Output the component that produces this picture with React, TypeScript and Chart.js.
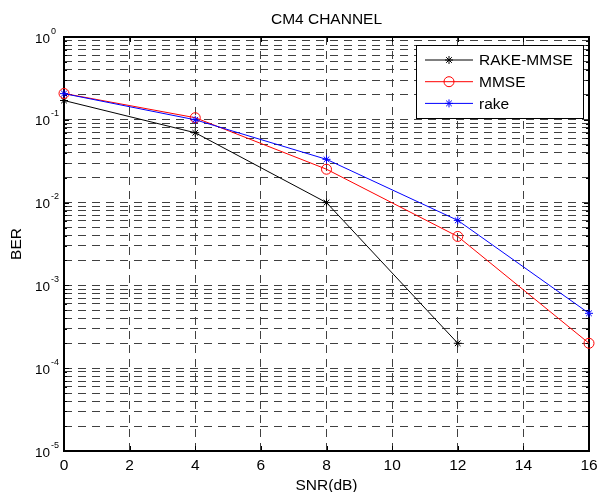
import React, { useEffect, useRef } from "react";
import { Chart, registerables } from "chart.js";

Chart.register(...registerables);

// ---- data ----
const snrDb = [0, 4, 8, 12, 16];
const rakeMmseBer = [0.171, 0.0697, 0.01, 0.0002];
const mmseBer = [0.208, 0.106, 0.0253, 0.0039, 0.0002];
const rakeBer = [0.207, 0.1, 0.0333, 0.0061, 0.00046];
const seriesLabels = ["RAKE-MMSE", "MMSE", "rake"];
const seriesColors = ["#000000", "#ff0000", "#0000ff"];
const xTickValues = [0, 2, 4, 6, 8, 10, 12, 14, 16];
const yDecadeExponents = [-5, -4, -3, -2, -1, 0];
const yMinorSteps = [1, 2, 3, 4, 5, 6, 7, 8, 9];
const titleText = "CM4 CHANNEL";
const xTitle = "SNR(dB)";
const yTitle = "BER";

const FONT = '"Liberation Sans", Arial, Helvetica, sans-serif';

const yTickValues: number[] = [];
yDecadeExponents.forEach((e) => {
  if (e === 0) {
    yTickValues.push(1);
  } else {
    yMinorSteps.forEach((m) => yTickValues.push(Number((m * Math.pow(10, e)).toPrecision(6))));
  }
});

const isDecade = (v: number) => Math.abs(Math.log10(v) - Math.round(Math.log10(v))) < 1e-9;

const toPoints = (ys: number[]) => ys.map((y, i) => ({ x: snrDb[i], y }));

function drawMarker(ctx: CanvasRenderingContext2D, style: string, x: number, y: number, r: number, color: string) {
  ctx.save();
  ctx.strokeStyle = color;
  ctx.lineWidth = 1;
  ctx.beginPath();
  if (style === "circle") {
    ctx.arc(x, y, r, 0, Math.PI * 2);
  } else {
    const d = r * Math.SQRT1_2;
    ctx.moveTo(x - r, y);
    ctx.lineTo(x + r, y);
    ctx.moveTo(x, y - r);
    ctx.lineTo(x, y + r);
    ctx.moveTo(x - d, y - d);
    ctx.lineTo(x + d, y + d);
    ctx.moveTo(x - d, y + d);
    ctx.lineTo(x + d, y - d);
  }
  ctx.stroke();
  ctx.restore();
}

const matlabPlugin = {
  id: "matlabStyle",
  beforeDatasetsDraw(chart: any) {
    const { ctx, chartArea: a, scales } = chart;
    ctx.save();
    ctx.strokeStyle = "#000";
    ctx.lineWidth = 1;
    ctx.beginPath();
    yTickValues.forEach((v) => {
      const y = Math.round(scales.y.getPixelForValue(v)) + 0.5;
      const len = isDecade(v) ? 5 : 3;
      ctx.moveTo(a.left, y);
      ctx.lineTo(a.left + len, y);
      ctx.moveTo(a.right, y);
      ctx.lineTo(a.right - len, y);
    });
    xTickValues.forEach((v) => {
      const x = Math.round(scales.x.getPixelForValue(v)) + 0.5;
      ctx.moveTo(x, a.bottom);
      ctx.lineTo(x, a.bottom - 5);
      ctx.moveTo(x, a.top);
      ctx.lineTo(x, a.top + 5);
    });
    ctx.stroke();
    ctx.lineWidth = 2;
    ctx.strokeRect(a.left, a.top, a.right - a.left, a.bottom - a.top);
    ctx.restore();
  },
  afterDatasetsDraw(chart: any) {
    const { ctx } = chart;
    const lx = 416;
    const ly = 45;
    const lw = 167;
    const lh = 73;
    ctx.save();
    ctx.fillStyle = "#fff";
    ctx.fillRect(lx, ly, lw, lh);
    ctx.strokeStyle = "#000";
    ctx.lineWidth = 1;
    ctx.strokeRect(lx + 0.5, ly + 0.5, lw, lh);
    chart.data.datasets.forEach((ds: any, i: number) => {
      const y = ly + 15 + i * 21.7;
      ctx.strokeStyle = ds.borderColor;
      ctx.lineWidth = 1;
      ctx.beginPath();
      ctx.moveTo(425, y);
      ctx.lineTo(473, y);
      ctx.stroke();
      drawMarker(ctx, ds.pointStyle, 449, y, ds.pointRadius, ds.borderColor);
      ctx.fillStyle = "#000";
      ctx.font = `15.5px ${FONT}`;
      ctx.textAlign = "left";
      ctx.textBaseline = "middle";
      ctx.fillText(ds.label, 479, y + 1);
    });
    ctx.restore();
  },
  afterDraw(chart: any) {
    const { ctx, chartArea: a, scales } = chart;
    ctx.save();
    ctx.fillStyle = "#000";
    // title
    ctx.font = `15.5px ${FONT}`;
    ctx.textAlign = "center";
    ctx.textBaseline = "alphabetic";
    ctx.fillText(titleText, (a.left + a.right) / 2, 24);
    // x tick labels
    xTickValues.forEach((v) => {
      const x = scales.x.getPixelForValue(v);
      ctx.fillText(String(v), x, a.bottom + 18.5);
    });
    // x title
    ctx.fillText(xTitle, (a.left + a.right) / 2, 490);
    // y tick labels
    yDecadeExponents.forEach((e) => {
      const y = scales.y.getPixelForValue(Math.pow(10, e));
      ctx.font = `13.5px ${FONT}`;
      ctx.textAlign = "right";
      ctx.fillText("10", 50, y + 5.5);
      ctx.font = `9px ${FONT}`;
      ctx.textAlign = "left";
      ctx.fillText(String(e), 51, y - 3.5);
    });
    // y title
    ctx.font = `15.5px ${FONT}`;
    ctx.translate(20.5, (a.top + a.bottom) / 2);
    ctx.rotate(-Math.PI / 2);
    ctx.textAlign = "center";
    ctx.fillText(yTitle, 0, 0);
    ctx.restore();
  },
};

export default function App() {
  const canvasRef = useRef<HTMLCanvasElement | null>(null);

  useEffect(() => {
    const canvas = canvasRef.current;
    if (!canvas) return;
    const seriesData = [rakeMmseBer, mmseBer, rakeBer];
    const pointStyles = ["star", "circle", "star"];
    const radii = [4, 5, 4];
    const orders = [2, 1, 0];
    const chart = new Chart(canvas, {
      type: "line",
      data: {
        datasets: seriesData.map((ys, i) => ({
          label: seriesLabels[i],
          data: toPoints(ys),
          borderColor: seriesColors[i],
          backgroundColor: seriesColors[i],
          borderWidth: 1,
          pointStyle: pointStyles[i],
          pointRadius: radii[i],
          pointBorderWidth: 1,
          pointBorderColor: seriesColors[i],
          pointBackgroundColor: "rgba(0,0,0,0)",
          tension: 0,
          fill: false,
          clip: false,
          order: orders[i],
        })),
      },
      options: {
        responsive: false,
        animation: false,
        devicePixelRatio: 1,
        layout: { padding: { left: 64, right: 11, top: 37, bottom: 41 } },
        plugins: {
          legend: { display: false },
          tooltip: { enabled: false },
          title: { display: false },
        },
        events: [],
        scales: {
          x: {
            type: "linear",
            min: 0,
            max: 16,
            ticks: { display: false, stepSize: 2 },
            afterBuildTicks: (scale: any) => {
              scale.ticks = xTickValues.map((v) => ({ value: v }));
            },
            grid: { color: "#404040", lineWidth: 1, drawTicks: false },
            border: { display: false, dash: [8, 6] },
          },
          y: {
            type: "logarithmic",
            min: 1e-5,
            max: 1,
            ticks: { display: false },
            afterBuildTicks: (scale: any) => {
              scale.ticks = yTickValues.map((v) => ({ value: v, major: isDecade(v) }));
            },
            grid: { color: "#404040", lineWidth: 1, drawTicks: false },
            border: { display: false, dash: [8, 6] },
          },
        },
      },
      plugins: [matlabPlugin],
    } as any);
    return () => chart.destroy();
  }, []);

  return (
    <canvas
      ref={canvasRef}
      width={600}
      height={492}
      style={{ position: "absolute", left: 0, top: 0, width: 600, height: 492 }}
    />
  );
}
